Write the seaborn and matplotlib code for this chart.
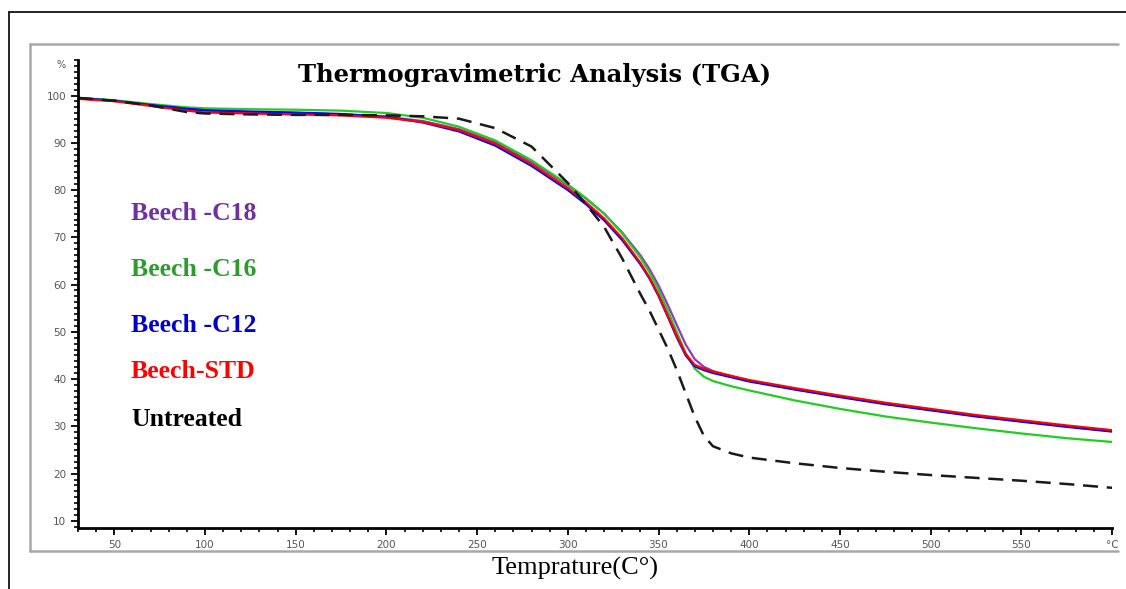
import matplotlib
matplotlib.use("Agg")
import matplotlib.pyplot as plt
from matplotlib.ticker import MultipleLocator
from matplotlib.lines import Line2D
import seaborn as sns
import pandas as pd

# temperature grid (°C) shared by all curves
temps = [30, 50, 70, 90, 100, 125, 150, 175, 200, 220, 240, 260, 280, 300, 310, 320,
         330, 340, 345, 350, 355, 360, 365, 370, 375, 380, 390, 400, 425, 450, 475,
         500, 525, 550, 575, 600]

# mass remaining (%)
beech_c18 = [99.4, 98.9, 98.0, 97.1, 96.8, 96.5, 96.3, 96.0, 95.5, 94.6, 92.9, 90.1, 86.0,
             81.0, 78.2, 75.0, 71.0, 66.2, 63.3, 59.8, 55.8, 51.5, 47.3, 44.2, 42.6, 41.7,
             40.6, 39.6, 37.9, 36.3, 34.8, 33.5, 32.2, 31.1, 30.0, 29.0]
beech_c16 = [99.5, 99.0, 98.2, 97.5, 97.3, 97.1, 97.0, 96.8, 96.3, 95.3, 93.4, 90.5, 86.3,
             81.2, 78.3, 75.0, 70.8, 65.7, 62.6, 58.9, 54.6, 50.0, 45.5, 42.2, 40.5, 39.6,
             38.5, 37.6, 35.5, 33.7, 32.1, 30.8, 29.6, 28.5, 27.5, 26.7]
beech_c12 = [99.5, 98.9, 98.0, 97.2, 96.9, 96.6, 96.4, 96.1, 95.5, 94.3, 92.4, 89.4, 85.1,
             80.0, 77.0, 73.6, 69.4, 64.3, 61.3, 57.6, 53.3, 48.9, 45.0, 42.7, 41.9, 41.3,
             40.4, 39.5, 37.8, 36.2, 34.7, 33.4, 32.1, 31.0, 29.9, 28.9]
beech_std = [99.3, 98.8, 97.8, 96.8, 96.4, 96.2, 96.0, 95.8, 95.3, 94.4, 92.7, 89.8, 85.5,
             80.4, 77.4, 74.0, 69.8, 64.6, 61.5, 57.8, 53.5, 49.2, 45.3, 43.0, 42.2, 41.6,
             40.7, 39.8, 38.1, 36.5, 35.0, 33.7, 32.4, 31.3, 30.2, 29.2]
untreated = [99.5, 98.9, 97.9, 96.5, 96.2, 96.0, 95.9, 95.9, 95.8, 95.6, 95.1, 93.1, 89.2,
             81.5, 77.0, 72.2, 65.5, 58.0, 54.5, 50.5, 46.5, 42.0, 37.0, 32.0, 28.0, 25.8,
             24.3, 23.4, 22.2, 21.2, 20.4, 19.7, 19.1, 18.5, 17.8, 17.0]

labels = ["Beech -C18", "Beech -C16", "Beech -C12", "Beech-STD", "Untreated"]
line_colors = ["#9236c4", "#22cc22", "#0000ff", "#ff0000", "#1a1a1a"]
text_colors = ["#7030a0", "#2e9b2e", "#0000cc", "#ff0000", "#000000"]

xticks = [50, 100, 150, 200, 250, 300, 350, 400, 450, 500, 550, 600]
xticklabels = ["50", "100", "150", "200", "250", "300", "350", "400", "450", "500", "550", "°C"]
yticks = [10, 20, 30, 40, 50, 60, 70, 80, 90, 100]

sns.set_style("ticks")

fig = plt.figure(figsize=(11.26, 5.89), dpi=100)
ax = fig.add_axes([0.0693, 0.1036, 0.9183, 0.7944])

series = [beech_c18, beech_c16, beech_c12, beech_std, untreated]
for name, vals, col in zip(labels, series, line_colors):
    df = pd.DataFrame({"T": temps, "mass": vals})
    if name == "Untreated":
        sns.lineplot(data=df, x="T", y="mass", ax=ax, color=col, linewidth=1.8)
        ax.lines[-1].set_dashes((6, 3.5))
    else:
        sns.lineplot(data=df, x="T", y="mass", ax=ax, color=col, linewidth=1.6)

ax.set_xlim(30, 600)
ax.set_ylim(8.5, 107.5)
ax.set_xticks(xticks)
ax.set_xticklabels(xticklabels)
ax.set_yticks(yticks)
ax.xaxis.set_minor_locator(MultipleLocator(10))
ax.yaxis.set_minor_locator(MultipleLocator(1.25))
ax.tick_params(which="major", direction="out", length=5, width=1.3, color="black",
               labelsize=7.5, labelcolor="#555555")
ax.tick_params(which="minor", direction="out", length=3, width=1.2, color="black")
ax.set_xlabel("")
ax.set_ylabel("")
sns.despine(ax=ax)
for s in ["left", "bottom"]:
    ax.spines[s].set_linewidth(2)
    ax.spines[s].set_color("black")
ax.text(-0.012, 0.99, "%", transform=ax.transAxes, ha="right", va="center",
        fontsize=7, color="#555555")

# title and x label
fig.text(0.475, 0.873, "Thermogravimetric Analysis (TGA)", ha="center", va="center",
         fontsize=17.5, fontweight="bold", family="DejaVu Serif", color="black")
fig.text(0.511, 0.035, "Temprature(C°)", ha="center", va="center",
         fontsize=19, family="Liberation Serif", color="black")

# coloured series labels
label_y = [213, 269, 325, 371, 419]
for lab, col, yp in zip(labels, text_colors, label_y):
    fig.text(131 / 1126, 1 - yp / 589, lab, ha="left", va="center", color=col,
             fontsize=18.5, fontweight="bold", family="Liberation Serif")

# outer black frame and inner grey frame
W, H = 1126, 589
def fx(p):
    return p / W
def fy(p):
    return 1 - p / H
fig.add_artist(Line2D([fx(9), 1], [fy(12), fy(12)], color="black", lw=1.2))
fig.add_artist(Line2D([fx(9), fx(9)], [fy(12), 0], color="black", lw=1.2))
grey = "#a8a8a8"
fig.add_artist(Line2D([fx(30), fx(1118)], [fy(44), fy(44)], color=grey, lw=1.8))
fig.add_artist(Line2D([fx(30), fx(30)], [fy(44), fy(551)], color=grey, lw=1.8))
fig.add_artist(Line2D([fx(30), fx(1118)], [fy(551), fy(551)], color=grey, lw=1.8))

fig.savefig("out.png", dpi=100)
